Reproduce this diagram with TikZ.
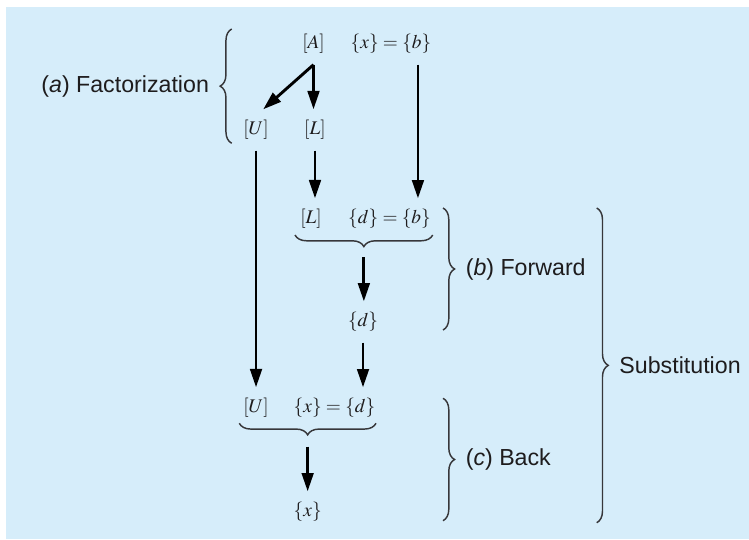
\documentclass[tikz,border=0pt]{standalone}
\usepackage{mathptmx}
\usepackage[no-math]{fontspec}
\setsansfont{Liberation Sans}
\usetikzlibrary{arrows.meta,decorations.pathreplacing,calc}

\definecolor{panelblue}{RGB}{214,237,250}
\definecolor{inkgray}{RGB}{30,28,29}
\definecolor{bracegray}{RGB}{55,55,58}

\begin{document}
\begin{tikzpicture}[>={Triangle[length=9.5pt,width=6pt]},
        mathnode/.style={text=inkgray, inner sep=5.5pt},
        lbl/.style={text=inkgray, font=\sffamily\large, inner sep=4pt},
        arr/.style={->, line width=1.5pt, black},
        brc/.style={draw=bracegray, line width=0.75pt, decorate,
            decoration={brace, amplitude=0.21cm}}]

        % Sfondo
        \useasboundingbox (0,0) rectangle (13.618,9.8);
        \fill[panelblue] (0.11,0) rectangle (13.618,9.673);

        % Fattorizzazione
        \node[mathnode] (A) at (5.70,9.0) {$[A]$};
        \node[mathnode] (xb) at (7.109,9.0) {$\{x\} = \{b\}$};
        \node[mathnode] (U1) at (4.655,7.436) {$[U]$};
        \node[mathnode] (L1) at (5.727,7.436) {$[L]$};
        \draw[arr] (A.south) -- ($(U1.north)+(0.13,0)$);
        \draw[arr] (A.south) -- (A.south |- L1.north);
        \draw[brc] (4.213,7.195) -- (4.213,9.273)
            node[lbl, midway, left=0.26cm] (fact) {(\textit{a}) Factorization};

        % Sostituzione in avanti
        \node[mathnode] (L2) at (5.655,5.818) {$[L]$};
        \node[mathnode] (db) at (7.082,5.818) {$\{d\} = \{b\}$};
        \node[mathnode] (d) at (6.6,3.945) {$\{d\}$};
        \coordinate (bline) at ($(xb.south)+(0.49,0)$);
        \draw[arr] (bline) -- (bline |- db.north);
        \draw[arr] (L1.south) -- (L1.south |- L2.north);
        \draw[brc] (7.867,5.527) -- (5.364,5.527) coordinate[midway] (fwdtip);
        \draw[arr] ($(fwdtip)+(0,-0.4)$) -- (fwdtip |- d.north);
        \draw[brc] (8.055,6.018) -- (8.055,3.8)
            node[lbl, midway, right=0.26cm] (fwd) {(\textit{b}) Forward};

        % Sostituzione all'indietro
        \node[mathnode] (U3) at (4.655,2.382) {$[U]$};
        \node[mathnode] (xd) at (6.082,2.382) {$\{x\} = \{d\}$};
        \node[mathnode] (x) at (5.595,0.491) {$\{x\}$};
        \draw[arr] (U1.south) -- (U1.south |- U3.north);
        \draw[arr] (d.south) -- (d.south |- xd.north);
        \draw[brc] (6.836,2.104) -- (4.351,2.104) coordinate[midway] (backtip);
        \draw[arr] ($(backtip)+(0,-0.426)$) -- (backtip |- x.north);
        \draw[brc] (8.055,2.558) -- (8.055,0.333)
            node[lbl, midway, right=0.26cm] (back) {(\textit{c}) Back};

        % Parentesi complessiva
        \draw[brc] (10.849,6.018) -- (10.849,0.296)
            node[lbl, midway, right=0.26cm] (subst) {Substitution};

    \end{tikzpicture}
\end{document}
